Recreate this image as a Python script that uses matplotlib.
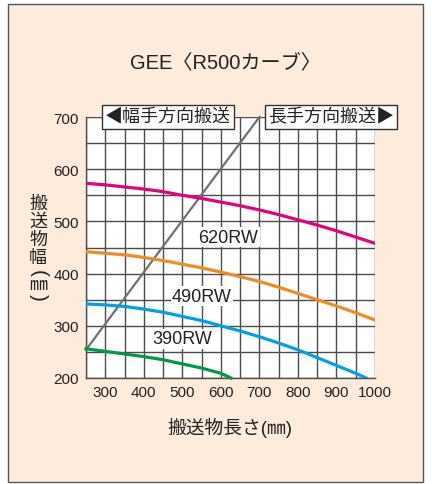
import numpy as np
import matplotlib.pyplot as plt
from matplotlib.patches import Rectangle
from matplotlib.ticker import MultipleLocator

plt.rcParams['font.family'] = ['Liberation Sans', 'Noto Sans CJK JP', 'DejaVu Sans']

# data
x_grid = [250, 300, 350, 400, 450, 500, 550, 600, 650, 700, 750, 800, 850, 900, 950, 1000]
y_620 = [573, 570, 566, 562, 557, 550, 544, 537, 530, 522, 513, 503, 493, 482, 470, 458]
y_490 = [442, 439, 436, 431, 425, 418, 411, 403, 394, 385, 374, 362, 350, 338, 325, 311]
x_390 = [250, 300, 350, 400, 450, 500, 550, 600, 650, 700, 750, 800, 850, 900, 950, 977]
y_390 = [342, 340, 337, 332, 326, 318, 310, 300, 290, 279, 267, 254, 239, 224, 209, 200]
x_small = [250, 300, 350, 400, 450, 500, 550, 600, 626]
y_small = [256, 251, 246, 241, 235, 227, 219, 209, 200]
x_limit = [250, 700]
y_limit = [254, 700]

labels = ['620RW', '490RW', '390RW']
label_pos = [(619, 470), (551, 357), (499, 275)]

# vertical y label: character, row (px from top), rotation, size
ylabel_chars = ['搬', '送', '物', '幅', '(', '㎜', ')']
ylabel_rows = [204, 222, 240, 259, 274, 286, 297]
ylabel_rot = [0, 0, 0, 0, -90, 0, -90]
ylabel_size = [13, 13, 13, 13, 15, 13, 15]

bg = '#fdebdc'
grid_c = '#4d4d4d'

fig = plt.figure(figsize=(4.32, 4.85), dpi=100)
fig.patch.set_facecolor('white')
fig.patches.append(Rectangle((8 / 432, 2 / 485), 415 / 432, 478 / 485,
                             transform=fig.transFigure, facecolor=bg,
                             edgecolor='#555555', lw=1.0, zorder=-1))

ax = fig.add_axes([86 / 432, 106 / 485, 289 / 432, 261 / 485])
ax.set_zorder(2)
ax.set_facecolor('white')
ax.set_xlim(250, 1000)
ax.set_ylim(200, 700)
ax.set_xticks(range(300, 1001, 100))
ax.set_yticks(range(200, 701, 100))
ax.xaxis.set_minor_locator(MultipleLocator(50))
ax.yaxis.set_minor_locator(MultipleLocator(50))
ax.grid(True, which='both', color=grid_c, lw=1.0)
ax.tick_params(which='both', length=0, labelsize=11, pad=5, colors='#222222')
for s in ax.spines.values():
    s.set_color(grid_c)
    s.set_linewidth(1.0)
ax.spines['top'].set_visible(False)
ax.spines['right'].set_visible(False)

ax.plot(x_limit, y_limit, color='#707070', lw=1.6, zorder=3, clip_on=False)
ax.plot(x_grid, y_620, color='#e4007f', lw=2.3, zorder=3)
ax.plot(x_grid, y_490, color='#f08a24', lw=2.3, zorder=3)
ax.plot(x_390, y_390, color='#00a0e9', lw=2.3, zorder=3)
ax.plot(x_small, y_small, color='#009944', lw=2.3, zorder=3, clip_on=False)

for lab, (lx, ly) in zip(labels, label_pos):
    ax.text(lx, ly, lab, fontsize=13, ha='center', va='center', color='#222222', zorder=4,
            bbox=dict(facecolor='white', edgecolor='none', pad=1.0))

box = dict(facecolor='white', edgecolor='#333333', lw=1.0, boxstyle='square,pad=0.18')
ax.text(463, 700, '◀幅手方向搬送', fontsize=13, ha='center', va='center', color='#222222',
        bbox=box, zorder=5, clip_on=False)
ax.text(886, 700, '長手方向搬送▶', fontsize=13, ha='center', va='center', color='#222222',
        bbox=box, zorder=5, clip_on=False)

fig.text(225 / 432, 1 - 63 / 485, 'GEE〈R500カーブ〉', fontsize=14.5, ha='center', va='center',
         color='#222222')
fig.text(230 / 432, 1 - 428 / 485, '搬送物長さ(㎜)', fontsize=13.5, ha='center', va='center',
         color='#222222')
for ch, row, rot, sz in zip(ylabel_chars, ylabel_rows, ylabel_rot, ylabel_size):
    fig.text(38 / 432, 1 - row / 485, ch, fontsize=sz, ha='center', va='center',
             rotation=rot, rotation_mode='anchor', color='#222222')

fig.savefig('out.png', dpi=100, facecolor=fig.get_facecolor())
